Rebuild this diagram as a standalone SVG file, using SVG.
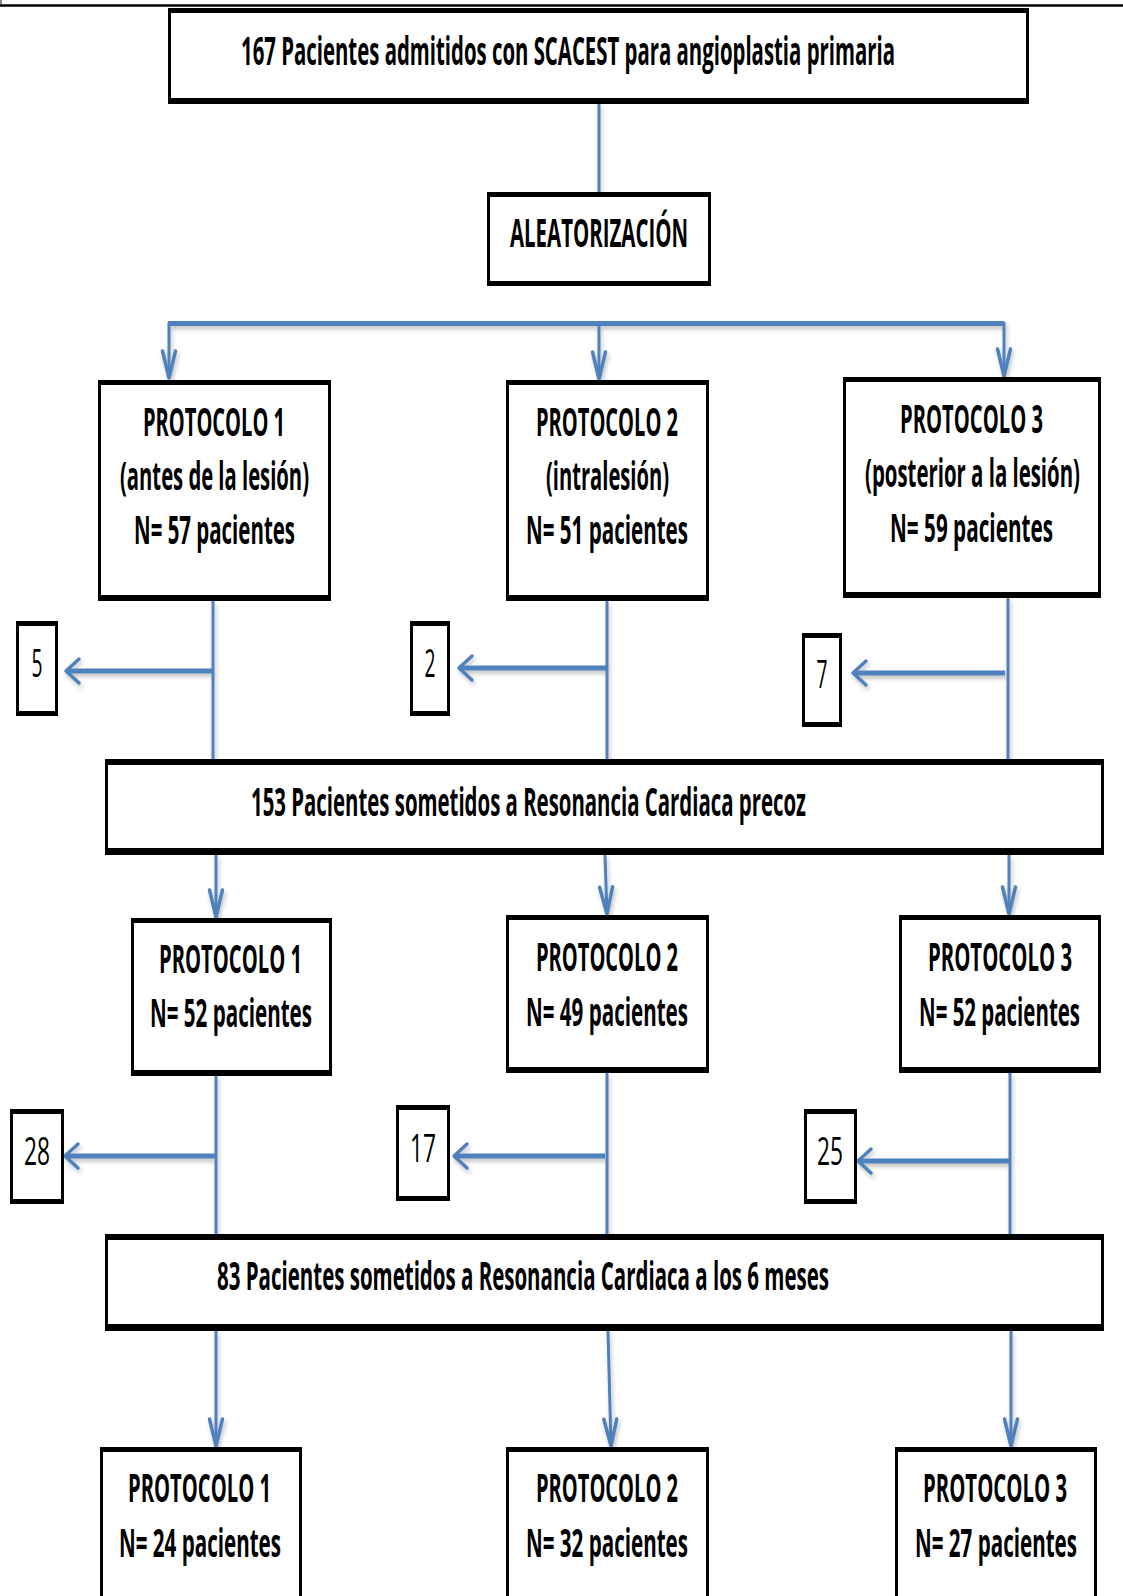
<svg xmlns="http://www.w3.org/2000/svg" width="1123" height="1596" viewBox="0 0 1123 1596">
<style>
.bo{fill:#000}
.bi{fill:#fff}
.t{font-family:"Open Sans","Liberation Sans",sans-serif;font-size:22px;font-weight:700;fill:#000;text-anchor:middle}
.n{font-family:"Open Sans","Liberation Sans",sans-serif;font-size:20px;font-weight:400;fill:#000;text-anchor:middle}
.thin{fill:none;stroke:#4F81BD;stroke-width:3}
.thick{fill:none;stroke:#4F81BD;stroke-width:5}
.av{fill:none;stroke:#4F81BD;stroke-width:3.5;stroke-linejoin:round;stroke-linecap:round}
</style>
<defs>
<filter id="sh" x="-10%" y="-10%" width="120%" height="140%">
<feDropShadow dx="1.5" dy="3" stdDeviation="2" flood-color="#000" flood-opacity="0.25"/>
</filter>
<marker id="arrV" markerUnits="userSpaceOnUse" markerWidth="40" markerHeight="40" viewBox="-35 -20 40 40" refX="0" refY="0" orient="auto" overflow="visible">
<path class="av" d="M-27,-6.5 L0,0 L-27,6.5"/>
</marker>
<marker id="arrH" markerUnits="userSpaceOnUse" markerWidth="40" markerHeight="40" viewBox="-35 -20 40 40" refX="0" refY="0" orient="auto" overflow="visible">
<path class="av" d="M-13,-12 L0,0 L-13,12"/>
</marker>
</defs>
<rect x="0" y="0" width="1123" height="1596" fill="#fff"/>
<line x1="0" y1="5.5" x2="1123" y2="5.5" stroke="#000" stroke-width="2.5"/>
<rect x="0" y="0" width="2" height="4" fill="#888"/>

<g id="connectors" filter="url(#sh)">
<line class="thin" x1="599" y1="104" x2="599" y2="192"/>
<line class="thick" x1="168" y1="323.5" x2="1004" y2="323.5"/>
<line class="thin" x1="169" y1="322" x2="169" y2="378" marker-end="url(#arrV)"/>
<line class="thin" x1="599" y1="322" x2="599" y2="379" marker-end="url(#arrV)"/>
<line class="thin" x1="1004" y1="322" x2="1004" y2="376" marker-end="url(#arrV)"/>

<line class="thin" x1="213" y1="601" x2="213" y2="759"/>
<line class="thin" x1="607" y1="601" x2="607" y2="759"/>
<line class="thin" x1="1008" y1="598" x2="1008" y2="759"/>
<line class="thick" x1="213" y1="671" x2="66" y2="671" marker-end="url(#arrH)"/>
<line class="thick" x1="607" y1="668" x2="459" y2="668" marker-end="url(#arrH)"/>
<line class="thick" x1="1005" y1="673" x2="853" y2="673" marker-end="url(#arrH)"/>

<line class="thin" x1="216" y1="855" x2="216" y2="917" marker-end="url(#arrV)"/>
<line class="thin" x1="605" y1="855" x2="607" y2="914" marker-end="url(#arrV)"/>
<line class="thin" x1="1009" y1="855" x2="1009" y2="914" marker-end="url(#arrV)"/>

<line class="thin" x1="216" y1="1076" x2="216" y2="1234"/>
<line class="thin" x1="607" y1="1073" x2="607" y2="1234"/>
<line class="thin" x1="1010" y1="1073" x2="1010" y2="1234"/>
<line class="thick" x1="216" y1="1156" x2="65" y2="1156" marker-end="url(#arrH)"/>
<line class="thick" x1="605" y1="1156" x2="454" y2="1156" marker-end="url(#arrH)"/>
<line class="thick" x1="1010" y1="1161" x2="858" y2="1161" marker-end="url(#arrH)"/>

<line class="thin" x1="216" y1="1331" x2="216" y2="1446" marker-end="url(#arrV)"/>
<line class="thin" x1="608" y1="1331" x2="611" y2="1446" marker-end="url(#arrV)"/>
<line class="thin" x1="1011" y1="1331" x2="1011" y2="1446" marker-end="url(#arrV)"/>
</g>

<g id="n-admitidos">
<rect class="bo" x="168" y="8" width="861" height="96"/>
<rect class="bi" x="171" y="13" width="855" height="85"/>
<text class="t" transform="translate(568,65) scale(1,1.75)" textLength="654" lengthAdjust="spacingAndGlyphs">167 Pacientes admitidos con SCACEST para angioplastia primaria</text>
</g>

<g id="n-aleatorizacion">
<rect class="bo" x="487" y="192" width="224" height="94"/>
<rect class="bi" x="490" y="197" width="218" height="84"/>
<text class="t" transform="translate(599,247) scale(1,1.75)" textLength="178" lengthAdjust="spacingAndGlyphs">ALEATORIZACIÓN</text>
</g>

<g id="n-p1a">
<rect class="bo" x="98" y="380" width="233" height="221"/>
<rect class="bi" x="101" y="385" width="227" height="210"/>
<text class="t" transform="translate(214,436) scale(1,1.75)" textLength="142" lengthAdjust="spacingAndGlyphs">PROTOCOLO 1</text>
<text class="t" transform="translate(214.5,490) scale(1,1.75)" textLength="189" lengthAdjust="spacingAndGlyphs">(antes de la lesión)</text>
<text class="t" transform="translate(214.5,544) scale(1,1.75)" textLength="161" lengthAdjust="spacingAndGlyphs">N= 57 pacientes</text>
</g>

<g id="n-p2a">
<rect class="bo" x="506" y="380" width="203" height="221"/>
<rect class="bi" x="509" y="385" width="197" height="210"/>
<text class="t" transform="translate(607,436) scale(1,1.75)" textLength="142" lengthAdjust="spacingAndGlyphs">PROTOCOLO 2</text>
<text class="t" transform="translate(607.5,490) scale(1,1.75)" textLength="123" lengthAdjust="spacingAndGlyphs">(intralesión)</text>
<text class="t" transform="translate(607,544) scale(1,1.75)" textLength="162" lengthAdjust="spacingAndGlyphs">N= 51 pacientes</text>
</g>

<g id="n-p3a">
<rect class="bo" x="843" y="377" width="258" height="221"/>
<rect class="bi" x="846" y="382" width="252" height="210"/>
<text class="t" transform="translate(971.5,433) scale(1,1.75)" textLength="143" lengthAdjust="spacingAndGlyphs">PROTOCOLO 3</text>
<text class="t" transform="translate(972.5,487) scale(1,1.75)" textLength="215" lengthAdjust="spacingAndGlyphs">(posterior a la lesión)</text>
<text class="t" transform="translate(971.5,542) scale(1,1.75)" textLength="163" lengthAdjust="spacingAndGlyphs">N= 59 pacientes</text>
</g>

<g id="n-ex5">
<rect class="bo" x="16" y="621" width="42" height="95"/>
<rect class="bi" x="19" y="626" width="36" height="85"/>
<text class="n" transform="translate(37,677) scale(1,1.9)" textLength="11" lengthAdjust="spacingAndGlyphs">5</text>
</g>
<g id="n-ex2">
<rect class="bo" x="410" y="621" width="40" height="95"/>
<rect class="bi" x="413" y="626" width="34" height="85"/>
<text class="n" transform="translate(430,677) scale(1,1.9)" textLength="11" lengthAdjust="spacingAndGlyphs">2</text>
</g>
<g id="n-ex7">
<rect class="bo" x="802" y="633" width="40" height="94"/>
<rect class="bi" x="805" y="638" width="34" height="84"/>
<text class="n" transform="translate(822,688) scale(1,1.9)" textLength="11" lengthAdjust="spacingAndGlyphs">7</text>
</g>

<g id="n-rm-precoz">
<rect class="bo" x="105" y="759" width="999" height="96"/>
<rect class="bi" x="108" y="765" width="993" height="83"/>
<text class="t" transform="translate(528.5,816) scale(1,1.75)" textLength="555" lengthAdjust="spacingAndGlyphs">153 Pacientes sometidos a Resonancia Cardiaca precoz</text>
</g>

<g id="n-p1b">
<rect class="bo" x="131" y="918" width="201" height="158"/>
<rect class="bi" x="134" y="923" width="195" height="147"/>
<text class="t" transform="translate(230.5,973) scale(1,1.75)" textLength="143" lengthAdjust="spacingAndGlyphs">PROTOCOLO 1</text>
<text class="t" transform="translate(231,1027) scale(1,1.75)" textLength="162" lengthAdjust="spacingAndGlyphs">N= 52 pacientes</text>
</g>
<g id="n-p2b">
<rect class="bo" x="506" y="915" width="203" height="158"/>
<rect class="bi" x="509" y="920" width="197" height="147"/>
<text class="t" transform="translate(607,971) scale(1,1.75)" textLength="142" lengthAdjust="spacingAndGlyphs">PROTOCOLO 2</text>
<text class="t" transform="translate(607,1026) scale(1,1.75)" textLength="162" lengthAdjust="spacingAndGlyphs">N= 49 pacientes</text>
</g>
<g id="n-p3b">
<rect class="bo" x="899" y="915" width="202" height="158"/>
<rect class="bi" x="902" y="920" width="196" height="147"/>
<text class="t" transform="translate(1000,971) scale(1,1.75)" textLength="144" lengthAdjust="spacingAndGlyphs">PROTOCOLO 3</text>
<text class="t" transform="translate(999.5,1026) scale(1,1.75)" textLength="161" lengthAdjust="spacingAndGlyphs">N= 52 pacientes</text>
</g>

<g id="n-ex28">
<rect class="bo" x="10" y="1109" width="54" height="95"/>
<rect class="bi" x="13" y="1114" width="48" height="85"/>
<text class="n" transform="translate(37,1165) scale(1,1.9)" textLength="26" lengthAdjust="spacingAndGlyphs">28</text>
</g>
<g id="n-ex17">
<rect class="bo" x="396" y="1105" width="54" height="96"/>
<rect class="bi" x="399" y="1110" width="48" height="86"/>
<text class="n" transform="translate(423,1162) scale(1,1.9)" textLength="26" lengthAdjust="spacingAndGlyphs">17</text>
</g>
<g id="n-ex25">
<rect class="bo" x="804" y="1109" width="53" height="95"/>
<rect class="bi" x="807" y="1114" width="47" height="85"/>
<text class="n" transform="translate(830,1165) scale(1,1.9)" textLength="26" lengthAdjust="spacingAndGlyphs">25</text>
</g>

<g id="n-rm-6m">
<rect class="bo" x="105" y="1234" width="999" height="97"/>
<rect class="bi" x="108" y="1240" width="993" height="84"/>
<text class="t" transform="translate(523,1290) scale(1,1.75)" textLength="612" lengthAdjust="spacingAndGlyphs">83 Pacientes sometidos a Resonancia Cardiaca a los 6 meses</text>
</g>

<g id="n-p1c">
<rect class="bo" x="100" y="1447" width="202" height="160"/>
<rect class="bi" x="103" y="1452" width="196" height="160"/>
<text class="t" transform="translate(199.5,1502) scale(1,1.75)" textLength="143" lengthAdjust="spacingAndGlyphs">PROTOCOLO 1</text>
<text class="t" transform="translate(200,1557) scale(1,1.75)" textLength="162" lengthAdjust="spacingAndGlyphs">N= 24 pacientes</text>
</g>
<g id="n-p2c">
<rect class="bo" x="506" y="1447" width="203" height="160"/>
<rect class="bi" x="509" y="1452" width="197" height="160"/>
<text class="t" transform="translate(607,1502) scale(1,1.75)" textLength="142" lengthAdjust="spacingAndGlyphs">PROTOCOLO 2</text>
<text class="t" transform="translate(607,1557) scale(1,1.75)" textLength="162" lengthAdjust="spacingAndGlyphs">N= 32 pacientes</text>
</g>
<g id="n-p3c">
<rect class="bo" x="895" y="1447" width="202" height="160"/>
<rect class="bi" x="898" y="1452" width="196" height="160"/>
<text class="t" transform="translate(995,1502) scale(1,1.75)" textLength="144" lengthAdjust="spacingAndGlyphs">PROTOCOLO 3</text>
<text class="t" transform="translate(996,1557) scale(1,1.75)" textLength="162" lengthAdjust="spacingAndGlyphs">N= 27 pacientes</text>
</g>
</svg>
